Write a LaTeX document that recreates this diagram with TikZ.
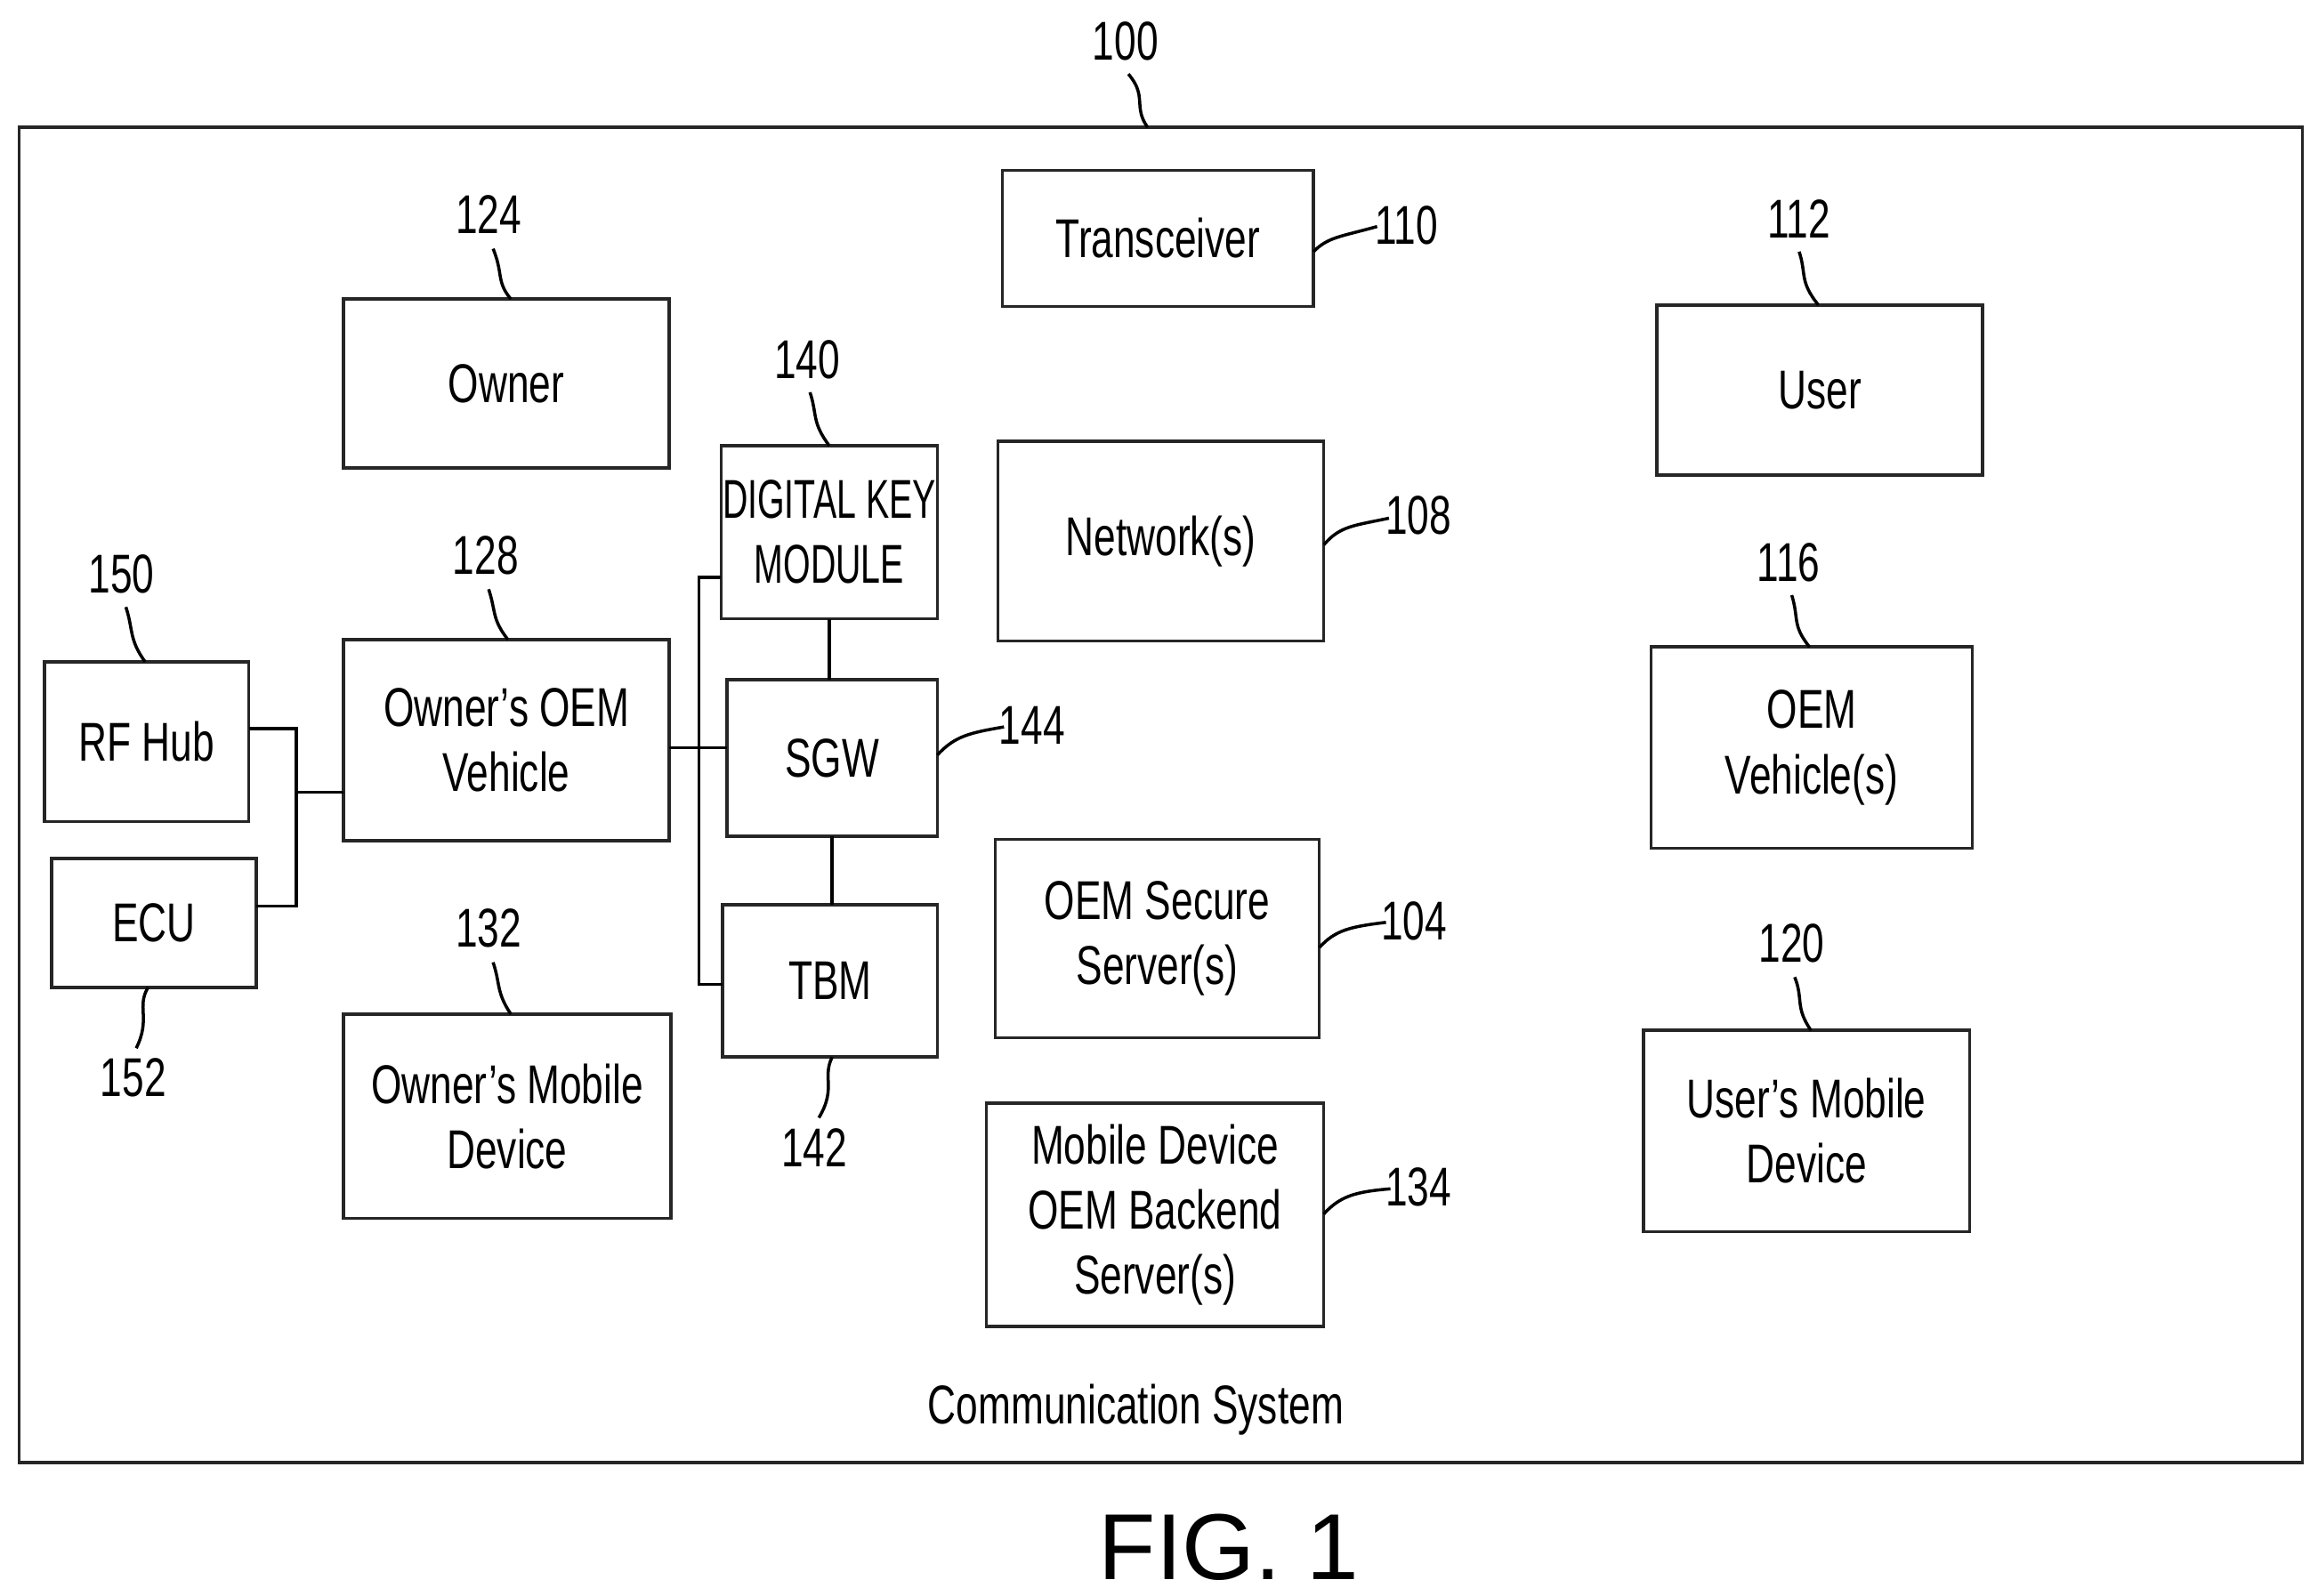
\documentclass[tikz,border=0pt]{standalone}
\usepackage{fontspec}
\setmainfont[FakeStretch=0.72]{Liberation Sans}
\newfontfamily\narrowfont[FakeStretch=0.64]{Liberation Sans}
\newfontfamily\figfont{Liberation Sans}
\begin{document}
\begin{tikzpicture}[x=0.01cm,y=-0.01cm,
 box/.style={draw=black!85,line width=0.6pt},
 lab/.style={font=\fontsize{10.5}{12.5}\selectfont,align=center},
 num/.style={font=\fontsize{10.5}{12.5}\selectfont},
 ln/.style={line width=0.6pt},
 ld/.style={line width=0.6pt}]
\useasboundingbox (0,0) rectangle (1560,1078);
\draw[box] (13,86) rectangle (1555,988);
\newcommand{\bx}[6]{\draw[box] (#2,#3) rectangle (#4,#5); \node[lab] (#1) at ({(#2+#4)/2},{(#3+#5)/2}) {#6}; \coordinate (#1nw) at (#2,#3); \coordinate (#1se) at (#4,#5);}
\bx{trx}{677}{115}{887}{207}{Transceiver}
\bx{own}{232}{202}{452}{316}{Owner}
\bx{usr}{1119}{206}{1339}{321}{User}
\bx{dkm}{487}{301}{633}{418}{\narrowfont DIGITAL KEY\\\narrowfont MODULE}
\bx{net}{674}{298}{894}{433}{Network(s)}
\bx{veh}{232}{432}{452}{568}{Owner's OEM\\Vehicle}
\bx{rf}{30}{447}{168}{555}{RF Hub}
\bx{ecu}{35}{580}{173}{667}{ECU}
\bx{sgw}{491}{459}{633}{565}{SGW}
\bx{oemv}{1115}{437}{1332}{573}{OEM\\Vehicle(s)}
\bx{sec}{672}{567}{891}{701}{OEM Secure\\Server(s)}
\bx{tbm}{488}{611}{633}{714}{TBM}
\bx{omd}{232}{685}{453}{823}{Owner's Mobile\\Device}
\bx{umd}{1110}{696}{1330}{832}{User's Mobile\\Device}
\bx{mob}{666}{745}{894}{896}{Mobile Device\\OEM Backend\\Server(s)}
% connectors
\draw[ln] (168,492) -- (200,492) -- (200,612) -- (173,612);
\draw[ln] (200,535) -- (232,535);
\draw[ln] (452,505) -- (491,505);
\draw[ln] (487,390) -- (472,390) -- (472,665) -- (488,665);
\draw[ln] (560,418) -- (560,459);
\draw[ln] (562,565) -- (562,611);
% numbers and leaders
\node[num] (n100) at (760,28) {100}; \draw[ld] (762,50) .. controls (775,65) and (765,72) .. (775,86);
\node[num] (n110) at (950,152) {110}; \draw[ld] (887,170) .. controls (897,160) and (905,160) .. (930,153);
\node[num] (n124) at (330,145) {124}; \draw[ld] (333,168) .. controls (340,185) and (335,190) .. (345,202);
\node[num] (n112) at (1215,148) {112}; \draw[ld] (1215,170) .. controls (1220,185) and (1215,190) .. (1228,206);
\node[num] (n140) at (545,243) {140}; \draw[ld] (547,265) .. controls (552,280) and (548,285) .. (560,301);
\node[num] (n108) at (958,348) {108}; \draw[ld] (894,368) .. controls (905,355) and (915,355) .. (938,350);
\node[num] (n128) at (328,375) {128}; \draw[ld] (330,398) .. controls (335,413) and (332,418) .. (343,432);
\node[num] (n150) at (82,388) {150}; \draw[ld] (85,410) .. controls (90,425) and (87,432) .. (98,447);
\node[num] (n152) at (90,728) {152}; \draw[ld] (100,667) .. controls (92,680) and (102,688) .. (92,708);
\node[num] (n144) at (697,490) {144}; \draw[ld] (633,510) .. controls (645,497) and (655,495) .. (678,491);
\node[num] (n116) at (1208,380) {116}; \draw[ld] (1210,402) .. controls (1215,418) and (1210,422) .. (1222,437);
\node[num] (n104) at (955,622) {104}; \draw[ld] (891,640) .. controls (902,628) and (912,626) .. (936,623);
\node[num] (n142) at (550,775) {142}; \draw[ld] (562,714) .. controls (555,728) and (565,735) .. (553,755);
\node[num] (n132) at (330,627) {132}; \draw[ld] (333,650) .. controls (338,665) and (335,670) .. (345,685);
\node[num] (n120) at (1210,637) {120}; \draw[ld] (1212,660) .. controls (1218,675) and (1212,680) .. (1223,696);
\node[num] (n134) at (958,802) {134}; \draw[ld] (894,820) .. controls (905,808) and (915,805) .. (939,803);
\node[lab] (cs) at (767,952) {Communication System};
\node[font=\figfont\fontsize{18}{20}\selectfont] (fig) at (830,1045) {FIG. 1};
\end{tikzpicture}
\end{document}
